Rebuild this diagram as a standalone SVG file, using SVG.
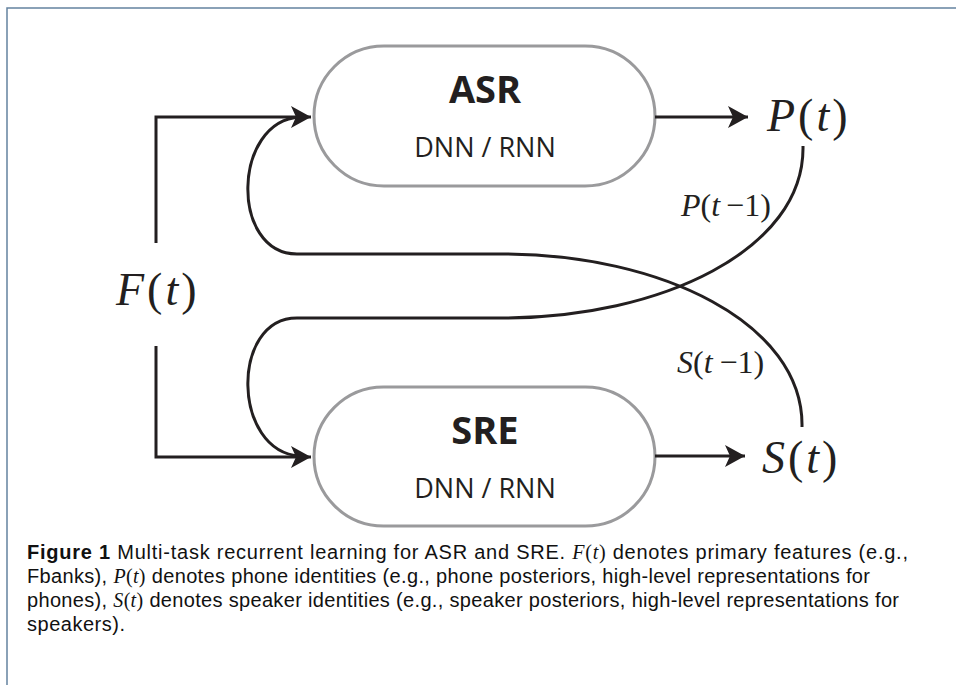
<svg xmlns="http://www.w3.org/2000/svg" width="956" height="685" viewBox="0 0 956 685">
<defs>
<marker id="ah" viewBox="0 0 20 22" refX="20" refY="11" markerWidth="20" markerHeight="22" markerUnits="userSpaceOnUse" orient="auto">
<path d="M0,0 L20,11 L0,22 L5,11 Z" fill="#231f20"/>
</marker>
<style>
.node{fill:#fff;stroke:#9a9a9c;stroke-width:3}
.title{font-family:"Open Sans",sans-serif;font-weight:bold;font-size:38px;fill:#231f20;text-anchor:middle}
.sub{font-family:"Open Sans",sans-serif;font-size:27px;fill:#231f20;text-anchor:middle}
.ln{fill:none;stroke:#231f20;stroke-width:3}
.math{font-family:"Liberation Serif",serif;fill:#231f20}
.big{font-size:46px;letter-spacing:3px}
.small{font-size:32px}
.it{font-style:italic}
.cap{font-family:"Liberation Sans",sans-serif;font-size:20px;fill:#111}
.cm{font-family:"Liberation Serif",serif;font-style:italic}
.cr{font-family:"Liberation Serif",serif}
</style>
</defs>
<rect width="956" height="685" fill="#fff"/>
<g id="frame" fill="none" stroke="#6482a0" stroke-width="1.5">
<path d="M7,685 L7,8 L956,8"/>
</g>
<g id="asr">
<rect class="node" x="314" y="46" width="341" height="140" rx="70" ry="70"/>
<text class="title" x="485" y="103">ASR</text>
<text class="sub" x="485" y="157">DNN / RNN</text>
</g>
<g id="sre">
<rect class="node" x="314" y="387" width="341" height="139" rx="69.5" ry="69.5"/>
<text class="title" x="485" y="444">SRE</text>
<text class="sub" x="485" y="498">DNN / RNN</text>
</g>
<g id="F">
<text class="math big" x="116" y="305"><tspan class="it">F</tspan>(<tspan class="it">t</tspan>)</text>
</g>
<g id="P">
<text class="math big" x="767" y="131"><tspan class="it">P</tspan>(<tspan class="it">t</tspan>)</text>
</g>
<g id="S">
<text class="math big" x="762" y="473"><tspan class="it">S</tspan>(<tspan class="it">t</tspan>)</text>
</g>
<g id="connectors">
<path class="ln" d="M156,243 L156,117 L311,117" marker-end="url(#ah)"/>
<path class="ln" d="M156,346 L156,457 L311,457" marker-end="url(#ah)"/>
<path class="ln" d="M655,117 L748,117" marker-end="url(#ah)"/>
<path class="ln" d="M655,456 L745,456" marker-end="url(#ah)"/>
<path class="ln" d="M803,146 C805,250 660,318 503,318 L297,318 C230,318 232,452 300,456"/>
<path class="ln" d="M802,427 C804,323 660,254 503,254 L297,254 C230,254 232,121 300,117"/>
</g>
<g id="labels">
<text class="math small" x="681" y="216"><tspan class="it">P</tspan>(<tspan class="it">t</tspan><tspan dx="6">−1)</tspan></text>
<text class="math small" x="677" y="373"><tspan class="it">S</tspan>(<tspan class="it">t</tspan><tspan dx="7">−1)</tspan></text>
</g>
<g id="caption">
<text class="cap" x="27" y="559" textLength="881" lengthAdjust="spacing"><tspan font-weight="bold">Figure 1</tspan> Multi-task recurrent learning for ASR and SRE. <tspan class="cm">F</tspan><tspan class="cr">(</tspan><tspan class="cm">t</tspan><tspan class="cr">)</tspan> denotes primary features (e.g.,</text>
<text class="cap" x="27" y="583" textLength="843" lengthAdjust="spacing">Fbanks), <tspan class="cm">P</tspan><tspan class="cr">(</tspan><tspan class="cm">t</tspan><tspan class="cr">)</tspan> denotes phone identities (e.g., phone posteriors, high-level representations for</text>
<text class="cap" x="27" y="607" textLength="872" lengthAdjust="spacing">phones), <tspan class="cm">S</tspan><tspan class="cr">(</tspan><tspan class="cm">t</tspan><tspan class="cr">)</tspan> denotes speaker identities (e.g., speaker posteriors, high-level representations for</text>
<text class="cap" x="27" y="631" textLength="98" lengthAdjust="spacing">speakers).</text>
</g>
</svg>
